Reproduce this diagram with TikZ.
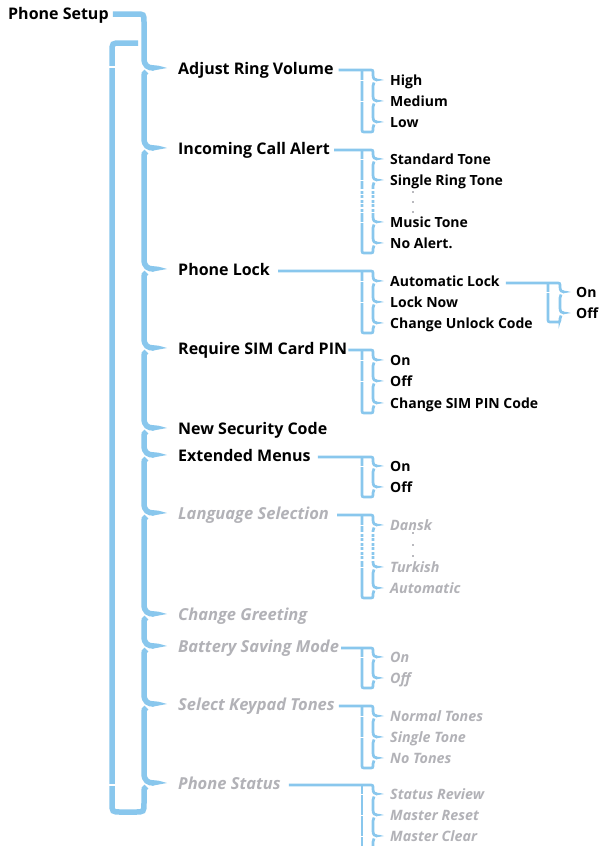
\documentclass[tikz,border=0pt]{standalone}
\usepackage{fontspec}
\setmainfont{Open Sans}
\usetikzlibrary{calc}
\definecolor{lineblue}{RGB}{137,199,237}
\definecolor{dimtext}{RGB}{178,178,183}
\definecolor{dottext}{RGB}{185,185,190}
\newcommand{\mainsize}{\fontsize{16}{19}\selectfont\bfseries}
\newcommand{\dimmainsize}{\fontsize{16.5}{19}\selectfont\bfseries\itshape}
\newcommand{\subsize}{\fontsize{14}{17}\selectfont\bfseries}
\newcommand{\dimsubsize}{\fontsize{14.3}{17}\selectfont\bfseries\itshape}
\tikzset{
  bigline/.style={draw=lineblue, line width=5.5pt},
  smallline/.style={draw=lineblue, line width=2.7pt},
  mainitem/.style={anchor=base west, inner sep=0pt, font=\mainsize, text=black},
  dimmain/.style={anchor=base west, inner sep=0pt, font=\dimmainsize, text=dimtext},
  subitem/.style={anchor=base west, inner sep=0pt, font=\subsize, text=black},
  dimsub/.style={anchor=base west, inner sep=0pt, font=\dimsubsize, text=dimtext},
  gapmark/.style={draw=white, line width=1pt},
  dotgap/.style={draw=white, line width=4pt, dash pattern=on 1.5pt off 3pt},
}
% tip of the thick line at y=#1
\newcommand{\bigtip}[1]{\fill[lineblue] (152,#1-2.75) .. controls (158,#1-2.6) .. (167,#1) .. controls (160,#1+1.5) .. (152,#1+2.75) -- cycle;}
% thick line segment from notch #1 to notch #2
\newcommand{\bigseg}[2]{%
  \draw[bigline] (146.5,#1+3.5) .. controls (144,#1+5.5) .. (144,#1+9) -- (144,#2-10)
     .. controls (144,#2-2) and (148,#2) .. (154,#2);
  \bigtip{#2}}
% tip of thin line at x=#1, y=#2
\newcommand{\smalltip}[2]{\fill[lineblue] (#1+3,#2-1.35) .. controls (#1+6,#2-1.2) .. (#1+11,#2) .. controls (#1+7,#2+0.8) .. (#1+3,#2+1.35) -- cycle;}
% thin segment on right vertical #1 from notch #2 to notch #3
\newcommand{\smallseg}[3]{%
  \draw[smallline] (#1+1,#2+2.5) .. controls (#1,#2+3.5) .. (#1,#2+6) -- (#1,#3-5)
     .. controls (#1,#3-1) and (#1+2,#3) .. (#1+4,#3);
  \smalltip{#1}{#3}}
% top piece: start coordinate #1, horizontal y #2, right vertical x #3, first notch #4
\newcommand{\smalltop}[4]{%
  \draw[smallline] (#1) -- (#3-4,#2) .. controls (#3,#2) .. (#3,#2+4) -- (#3,#4-5)
     .. controls (#3,#4-1) and (#3+2,#4) .. (#3+4,#4);
  \smalltip{#3}{#4}}
% end piece: left x #1, right x #2, horizontal y #3, last notch #4, bottom #5
\newcommand{\smallend}[5]{%
  \draw[smallline] (#2+1,#4+2.5) .. controls (#2,#4+3.5) .. (#2,#4+6) -- (#2,#5-4)
     .. controls (#2,#5) .. (#2-4,#5) -- (#1+4,#5) .. controls (#1,#5) .. (#1,#5-4) -- (#1,#3+1);}
\newcommand{\lgap}[2]{\draw[gapmark] (#1-2,#2) -- (#1+2,#2);}
\newcommand{\ellipsisdots}[1]{\foreach \d in {#1} {\fill[dottext] (412.3,\d-0.75) rectangle ++(1.5,1.5);}}
\begin{document}
\begin{tikzpicture}[x=1pt,y=-1pt]
\path[use as bounding box] (0,0) rectangle (600,846);
\clip (0,0) rectangle (600,846);
\fill[white] (0,0) rectangle (600,846);

% ---------- main items ----------
\node[mainitem] (ps)  at (8,19.5)   {Phone Setup};
\node[mainitem] (arv) at (178,74) {Adjust Ring Volume};
\node[mainitem] (ica) at (178,154) {Incoming Call Alert};
\node[mainitem] (pl)  at (178,275) {Phone Lock};
\node[mainitem] (rsp) at (178,354) {Require SIM Card PIN};
\node[mainitem] (nsc) at (178,434) {New Security Code};
\node[mainitem] (em)  at (178,461) {Extended Menus};
\node[dimmain]  (ls)  at (178,519) {Language Selection};
\node[dimmain]  (cg)  at (178,620) {Change Greeting};
\node[dimmain]  (bsm) at (178,652) {Battery Saving Mode};
\node[dimmain]  (skt) at (178,710) {Select Keypad Tones};
\node[dimmain]  (pst) at (178,789) {Phone Status};

% ---------- sub items ----------
\node[subitem] (hi)  at (390,85)  {High};
\node[subitem] (me)  at (390,106) {Medium};
\node[subitem] (lo)  at (390,127) {Low};
\node[subitem] (st)  at (390,164) {Standard Tone};
\node[subitem] (srt) at (390,185) {Single Ring Tone};
\node[subitem] (mt)  at (390,227) {Music Tone};
\node[subitem] (na)  at (390,248) {No Alert.};
\node[subitem] (al)  at (390,286) {Automatic Lock};
\node[subitem] (ln)  at (390,307) {Lock Now};
\node[subitem] (cuc) at (390,328) {Change Unlock Code};
\node[subitem] (alon)  at (576,297) {On};
\node[subitem] (aloff) at (576,318) {Off};
\node[subitem] (son)  at (390,365) {On};
\node[subitem] (soff) at (390,386) {Off};
\node[subitem] (csp)  at (390,408) {Change SIM PIN Code};
\node[subitem] (eon)  at (390,471) {On};
\node[subitem] (eoff) at (390,492) {Off};
\node[dimsub] (da)  at (390,530) {Dansk};
\node[dimsub] (tu)  at (390,572) {Turkish};
\node[dimsub] (au)  at (390,593) {Automatic};
\node[dimsub] (bon)  at (390,662) {On};
\node[dimsub] (boff) at (390,683) {Off};
\node[dimsub] (nt)  at (390,721) {Normal Tones};
\node[dimsub] (sto) at (390,742) {Single Tone};
\node[dimsub] (nto) at (390,763) {No Tones};
\node[dimsub] (sr)  at (390,799) {Status Review};
\node[dimsub] (mr)  at (390,820) {Master Reset};
\node[dimsub] (mc)  at (390,841) {Master Clear};

% ---------- main thick line ----------
\draw[bigline] ($(ps.base east)+(4,-5.5)$) -- (136,14) .. controls (144,14) .. (144,22) -- (144,58)
   .. controls (144,66) and (148,68) .. (154,68);
\bigtip{68}
\bigseg{68}{148}
\bigseg{148}{269}
\bigseg{269}{348}
\bigseg{348}{428}
\bigseg{428}{455}
\bigseg{455}{513}
\bigseg{513}{614}
\bigseg{614}{646}
\bigseg{646}{704}
\bigseg{704}{783}
% loop back to the top
\draw[bigline] (146.5,786.5) .. controls (144,788.5) .. (144,792) -- (144,803)
   .. controls (144,812) .. (135,812) -- (121,812) .. controls (112,812) .. (112,803)
   -- (112,52) .. controls (112,43) .. (121,43) -- (138,43);
\draw[draw=white, line width=1.3pt] (108,67) -- (116,67);
\draw[draw=white, line width=1.3pt] (108,785) -- (116,785);

% ---------- Adjust Ring Volume ----------
\coordinate (s1) at ($(arv.base east)+(5,-4)$);
\smalltop{s1}{70}{373}{80}
\smallseg{373}{80}{101}
\smallseg{373}{101}{122}
\smallend{362}{373}{70}{122}{132}
\lgap{362}{80}\lgap{362}{101}

% ---------- Incoming Call Alert ----------
\coordinate (s2) at ($(ica.base east)+(4,-4)$);
\smalltop{s2}{150}{373}{159}
\smallseg{373}{159}{180}
\smallseg{373}{180}{222}
\smallseg{373}{222}{243}
\smallend{362}{373}{150}{243}{253}
\lgap{362}{159}\lgap{362}{180}\lgap{362}{222}
\draw[dotgap] (373,189) -- (373,214);
\draw[dotgap] (362,189) -- (362,214);
\ellipsisdots{192,202,212}

% ---------- Phone Lock ----------
\coordinate (s3) at ($(pl.base east)+(8,-4)$);
\smalltop{s3}{271}{373}{281}
\smallseg{373}{281}{302}
\smallseg{373}{302}{323}
\smallend{362}{373}{271}{323}{333}
\lgap{362}{281}\lgap{362}{302}
% Automatic Lock
\coordinate (s3a) at ($(al.base east)+(6,-3)$);
\smalltop{s3a}{283}{560}{292}
\smallseg{560}{292}{313}
\smallend{548}{560}{283}{313}{322}
\lgap{548}{292}

% ---------- Require SIM Card PIN ----------
\coordinate (s4) at ($(rsp.base east)+(1,-4)$);
\smalltop{s4}{350}{373}{360}
\smallseg{373}{360}{381}
\smallseg{373}{381}{403}
\smallend{362}{373}{350}{403}{413}
\lgap{362}{360}\lgap{362}{381}

% ---------- Extended Menus ----------
\coordinate (s5) at ($(em.base east)+(7,-4)$);
\smalltop{s5}{457}{373}{466}
\smallseg{373}{466}{487}
\smallend{362}{373}{457}{487}{497}
\lgap{362}{466}

% ---------- Language Selection ----------
\coordinate (s6) at ($(ls.base east)+(8,-4)$);
\smalltop{s6}{515}{373}{525}
\smallseg{373}{525}{567}
\smallseg{373}{567}{588}
\smallend{362}{373}{515}{588}{598}
\lgap{362}{525}\lgap{362}{567}
\draw[dotgap] (373,532) -- (373,561);
\draw[dotgap] (362,532) -- (362,561);
\ellipsisdots{533,545,556}

% ---------- Battery Saving Mode ----------
\coordinate (s7) at ($(bsm.base east)+(2,-4)$);
\smalltop{s7}{648}{373}{657}
\smallseg{373}{657}{678}
\smallend{362}{373}{648}{678}{688}
\lgap{362}{657}

% ---------- Select Keypad Tones ----------
\coordinate (s8) at ($(skt.base east)+(4,-4)$);
\smalltop{s8}{706}{373}{716}
\smallseg{373}{716}{737}
\smallseg{373}{737}{758}
\smallend{362}{373}{706}{758}{768}
\lgap{362}{716}\lgap{362}{737}

% ---------- Phone Status ----------
\coordinate (s9) at ($(pst.base east)+(8,-4)$);
\smalltop{s9}{785}{373}{794}
\smallseg{373}{794}{815}
\smallseg{373}{815}{836}
\draw[smallline] (374,838.5) .. controls (373,839.5) .. (373,842) -- (373,860);
\draw[smallline] (362,860) -- (362,786);
\lgap{362}{794}\lgap{362}{815}\lgap{362}{836}
\end{tikzpicture}
\end{document}
